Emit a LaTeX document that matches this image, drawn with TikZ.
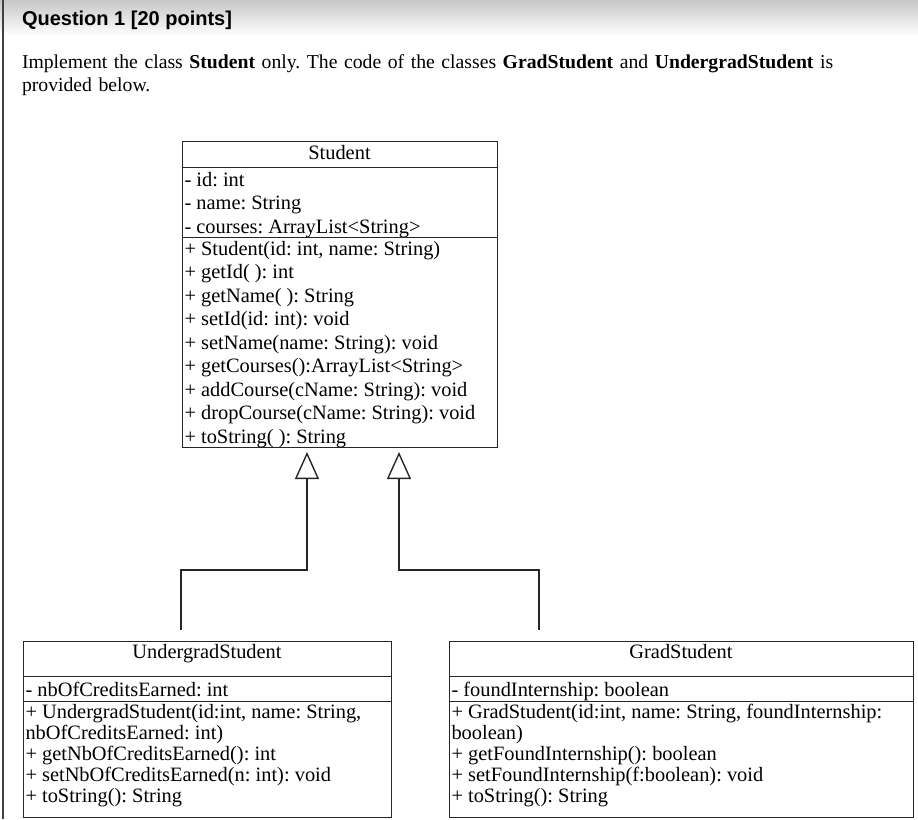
\documentclass[tikz,border=0pt]{standalone}
\usepackage{fontspec}
\setmainfont{Liberation Serif}
\newfontfamily\headfont{Liberation Sans}
\usetikzlibrary{positioning,calc,arrows.meta}
\frenchspacing

\begin{document}
\begin{tikzpicture}[x=1pt,y=-1pt,
   every node/.style={inner sep=0pt,outer sep=0pt},
   compart/.style={draw=black!85,line width=1pt,anchor=north west,inner xsep=2.5pt,inner ysep=0pt,font=\fontsize{20.4}{23.5}\selectfont},
   smallcompart/.style={compart,font=\fontsize{20.4}{21.2}\selectfont},
   inherit/.style={draw=black!85,line width=1.4pt,-{Triangle[open,length=27pt 0,width=24pt 0]}}]

   \useasboundingbox (0,0) rectangle (918,819);
   \shade[top color=black!22,bottom color=white] (0,0) rectangle (918,36);
   \draw[black!75,line width=1.5pt] (3,0) -- (3,819);

   \node[anchor=base west,font=\headfont\bfseries\fontsize{20}{23}\selectfont] (qtitle) at (22,25) {Question 1 [20 points]};
   \node[anchor=north west,text width=880pt,align=left,font=\fontsize{19.7}{23}\selectfont] (intro) at (22,54.5)
      {Implement the class \textbf{Student} only. The code of the classes \textbf{GradStudent} and \textbf{UndergradStudent} is\\provided below.};

   % Student
   \node[compart] (student-name) at (182,141) {\parbox[c][26pt][t]{310pt}{\centering\rule{0pt}{18pt}Student}};
   \node[compart,below=0pt of student-name] (student-attrs) {\parbox[c][70pt][t]{310pt}{\raggedright\rule{0pt}{19pt}%
      - id: int\\
      - name: String\\
      - courses: ArrayList<String>}};
   \node[compart,below=0pt of student-attrs] (student-ops) {\parbox[c][210pt][t]{310pt}{\raggedright\rule{0pt}{18pt}%
      + Student(id: int, name: String)\\
      + getId( ): int\\
      + getName( ): String\\
      + setId(id: int): void\\
      + setName(name: String): void\\
      + getCourses():ArrayList<String>\\
      + addCourse(cName: String): void\\
      + dropCourse(cName: String): void\\
      + toString( ): String}};

   % UndergradStudent
   \node[smallcompart] (under-name) at (23,641) {\parbox[c][35pt][t]{363pt}{\centering\rule{0pt}{17pt}UndergradStudent}};
   \node[smallcompart,below=0pt of under-name] (under-attrs) {\parbox[c][25pt][t]{363pt}{\raggedright\rule{0pt}{20pt}%
      - nbOfCreditsEarned: int}};
   \node[smallcompart,below=0pt of under-attrs] (under-ops) {\parbox[c][116pt][t]{363pt}{\raggedright\rule{0pt}{17pt}%
      + UndergradStudent(id:int, name: String,\\
      nbOfCreditsEarned: int)\\
      + getNbOfCreditsEarned(): int\\
      + setNbOfCreditsEarned(n: int): void\\
      + toString(): String}};

   % GradStudent
   \node[smallcompart] (grad-name) at (449,641) {\parbox[c][35pt][t]{459pt}{\centering\rule{0pt}{17pt}GradStudent}};
   \node[smallcompart,below=0pt of grad-name] (grad-attrs) {\parbox[c][25pt][t]{459pt}{\raggedright\rule{0pt}{20pt}%
      - foundInternship: boolean}};
   \node[smallcompart,below=0pt of grad-attrs] (grad-ops) {\parbox[c][116pt][t]{459pt}{\raggedright\rule{0pt}{17pt}%
      + GradStudent(id:int, name: String, foundInternship:\\
      boolean)\\
      + getFoundInternship(): boolean\\
      + setFoundInternship(f:boolean): void\\
      + toString(): String}};

   % generalisation arrows
   \coordinate (tip-u) at ($(student-ops.south west)+(125,5)$);
   \coordinate (tip-g) at ($(student-ops.south west)+(217,5)$);
   \coordinate (under-end) at (181,630);
   \coordinate (grad-end) at (539,630);
   \draw[inherit] (under-end) -- ++(0,-60) -| (tip-u);
   \draw[inherit] (grad-end) -- ++(0,-60) -| (tip-g);
\end{tikzpicture}
\end{document}
